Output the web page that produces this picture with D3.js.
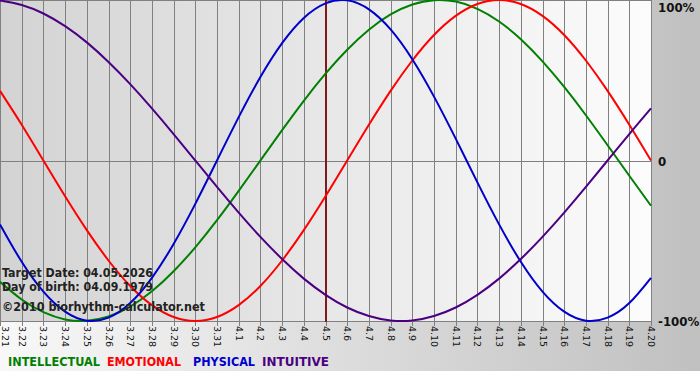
<!DOCTYPE html>
<html><head><meta charset="utf-8">
<script src="https://cdn.jsdelivr.net/npm/d3@7"></script>
<style>html,body{margin:0;padding:0;background:#fff;}svg{display:block;}</style>
</head><body>
<svg id="c" width="700" height="380"></svg>
<script>
const dayLabels = ["3.21","3.22","3.23","3.24","3.25","3.26","3.27","3.28","3.29","3.30","3.31",
  "4.1","4.2","4.3","4.4","4.5","4.6","4.7","4.8","4.9","4.10","4.11","4.12","4.13","4.14","4.15",
  "4.16","4.17","4.18","4.19","4.20"];
const intellectual = [-0.756,-0.866,-0.945,-0.990,-0.999,-0.972,-0.910,-0.815,-0.690,-0.541,-0.372,-0.189,0,
  0.189,0.372,0.541,0.690,0.815,0.910,0.972,0.999,0.990,0.945,0.866,0.756,0.618,0.458,0.282,0.095,-0.095,-0.282];
const emotional = [0.434,0.223,0,-0.223,-0.434,-0.623,-0.782,-0.901,-0.975,-1,-0.975,-0.901,-0.782,-0.623,-0.434,
  -0.223,0,0.223,0.434,0.623,0.782,0.901,0.975,1,0.975,0.901,0.782,0.623,0.434,0.223,0];
const physical = [-0.398,-0.631,-0.817,-0.942,-0.998,-0.979,-0.888,-0.731,-0.520,-0.270,0,0.270,0.520,0.731,0.888,
  0.979,0.998,0.942,0.817,0.631,0.398,0.136,-0.136,-0.398,-0.631,-0.817,-0.942,-0.998,-0.979,-0.888,-0.731];
const intuitive = [0.997,0.969,0.916,0.837,0.736,0.614,0.476,0.325,0.165,0,-0.165,-0.325,-0.476,-0.614,-0.736,
  -0.837,-0.916,-0.969,-0.997,-0.997,-0.969,-0.916,-0.837,-0.736,-0.614,-0.476,-0.325,-0.165,0,0.165,0.325];
const seriesNames = ["INTELLECTUAL","EMOTIONAL","PHYSICAL","INTUITIVE"];
const yTicks = [1, 0, -1];
const yTickLabels = ["100%","0","-100%"];
const targetIndex = 15;
const infoLines = ["Target Date: 04.05.2026","Day of birth: 04.09.1979","\u00A92010 biorhythm-calculator.net"];

const svg = d3.select("#c");
const W = 700, H = 380;
const plotW = 651, plotH = 321;
const colors = ["#008000","#ff0000","#0000cc","#4b0082"];
const seriesData = [intellectual, emotional, physical, intuitive];

const defs = svg.append("defs");
const g1 = defs.append("linearGradient").attr("id","bg").attr("x1","0").attr("x2","1").attr("y1","0").attr("y2","0");
g1.append("stop").attr("offset","0").attr("stop-color","#f8f8f8");
g1.append("stop").attr("offset","1").attr("stop-color","#c0c0c0");
const g2 = defs.append("linearGradient").attr("id","pg").attr("x1","0").attr("x2","1").attr("y1","0").attr("y2","0");
g2.append("stop").attr("offset","0").attr("stop-color","#d3d3d3");
g2.append("stop").attr("offset","1").attr("stop-color","#fcfcfc");

svg.append("rect").attr("x",0).attr("y",0).attr("width",W).attr("height",371).attr("fill","url(#bg)");
svg.append("rect").attr("x",0).attr("y",0).attr("width",plotW).attr("height",plotH+1).attr("fill","url(#pg)");

const x = d3.scaleLinear().domain([0, dayLabels.length-1]).range([0, plotW]);
const y = d3.scaleLinear().domain([-1, 1]).range([plotH, 0]);

// vertical grid
svg.append("g").selectAll("line").data(dayLabels).join("line")
  .attr("x1",(d,i)=>Math.round(x(i))+0.5).attr("x2",(d,i)=>Math.round(x(i))+0.5)
  .attr("y1",0).attr("y2",plotH+5)
  .attr("stroke","#808080").attr("stroke-width",1);
// horizontal lines: top, zero, bottom
svg.append("g").selectAll("line").data(yTicks).join("line")
  .attr("x1",0).attr("x2",plotW+1)
  .attr("y1",d=>Math.round(y(d))+0.5).attr("y2",d=>Math.round(y(d))+0.5)
  .attr("stroke","#808080").attr("stroke-width",1);

// x labels
svg.append("g").selectAll("text").data(dayLabels).join("text")
  .attr("transform",(d,i)=>`translate(${Math.max(Math.round(x(i))+0.5,5)},${plotH+5}) rotate(90)`)
  .attr("dy","0.35em")
  .attr("font-family","'DejaVu Sans', Verdana, sans-serif").attr("font-size",9.5)
  .attr("fill","#111").text(d=>d);

// y labels
svg.append("g").selectAll("text").data(yTicks).join("text")
  .attr("x",658).attr("y",(d,i)=> i===0 ? 12 : Math.round(y(d))+5)
  .attr("font-family","'DejaVu Sans', Verdana, sans-serif").attr("font-size",11.8).attr("font-weight","bold")
  .attr("fill","#111").text((d,i)=>yTickLabels[i]);

// target line
svg.append("line").attr("x1",Math.round(x(targetIndex))).attr("x2",Math.round(x(targetIndex)))
  .attr("y1",0).attr("y2",plotH+1).attr("stroke","#801a1a").attr("stroke-width",2);

// curves
const line = d3.line().x((d,i)=>x(i)).y(d=>y(d)).curve(d3.curveNatural);
const clip = defs.append("clipPath").attr("id","clip");
clip.append("rect").attr("x",0).attr("y",-2).attr("width",plotW+1).attr("height",plotH+4);
svg.append("g").attr("clip-path","url(#clip)").selectAll("path").data(seriesData).join("path")
  .attr("d",d=>line(d)).attr("fill","none")
  .attr("stroke",(d,i)=>colors[i]).attr("stroke-width",2);

// info text
const infoY = [277, 291, 311];
const infoLen = [151, 151, 203];
svg.append("g").selectAll("text").data(infoLines).join("text")
  .attr("x",2).attr("y",(d,i)=>infoY[i])
  .attr("font-family","'DejaVu Sans', Verdana, sans-serif").attr("font-size",11.8).attr("font-weight","bold")
  .attr("fill","#222").attr("textLength",(d,i)=>infoLen[i]).attr("lengthAdjust","spacingAndGlyphs")
  .text(d=>d);

// legend
const legX = [8, 107, 193, 262];
const legLen = [92, 74, 62, 67];
svg.append("g").selectAll("text").data(seriesNames).join("text")
  .attr("x",(d,i)=>legX[i]).attr("y",366)
  .attr("font-family","'DejaVu Sans', Verdana, sans-serif").attr("font-size",11.5).attr("font-weight","bold")
  .attr("textLength",(d,i)=>legLen[i]).attr("lengthAdjust","spacingAndGlyphs")
  .attr("fill",(d,i)=>colors[i]).text(d=>d);
</script>
</body></html>
